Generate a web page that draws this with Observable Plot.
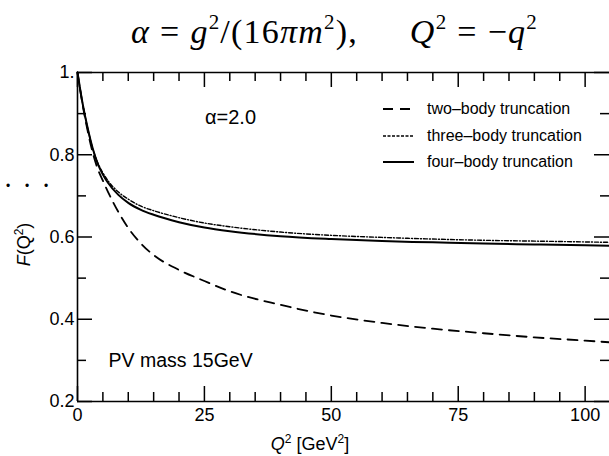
<!DOCTYPE html>
<html>
<head>
<meta charset="utf-8">
<script src="https://cdn.jsdelivr.net/npm/d3@7"></script>
<script src="https://cdn.jsdelivr.net/npm/@observablehq/plot@0.6"></script>
<style>
  html, body { margin: 0; padding: 0; background: #fff; }
  #wrap { position: relative; width: 609px; height: 456px; overflow: hidden; font-family: "Liberation Sans", Arial, sans-serif; }
  #title { position: absolute; left: 0; top: 13px; width: 609px; box-sizing: border-box; padding-left: 60px; text-align: center; font-family: "Liberation Serif", "DejaVu Serif", serif; font-size: 34px; letter-spacing: 1.2px; color: #000; white-space: pre; z-index: 2; }
  #title sup { font-size: 21px; vertical-align: 0; position: relative; top: -14px; }
  #title .eq { display: inline-block; margin: 0 10px; }
  #title .quad { display: inline-block; width: 52px; }
  #chart { position: absolute; left: 0; top: 62px; z-index: 1; }
  #dots { position: absolute; left: 6px; top: 179px; font-size: 12px; letter-spacing: 14.8px; color: #000; z-index: 3; }
  #legend { position: absolute; left: 383px; top: 96px; font-size: 16px; color: #000; z-index: 3; }
  #legend .row { display: flex; align-items: center; height: 26.5px; }
  #legend svg { margin-right: 13px; }
</style>
</head>
<body>
<div id="wrap">
  <div id="title"><i>α</i><span class="eq">=</span><i>g</i><sup>2</sup>/(16<i>πm</i><sup>2</sup>),<span class="quad"></span><i>Q</i><sup>2</sup><span class="eq">=</span>−<i>q</i><sup>2</sup></div>
  <div id="chart"></div>
  <div id="dots">•••</div>
  <div id="legend"></div>
</div>
<script>
// Q^2 grid (GeV^2)
const q2 = [0, 1, 2, 3, 4, 5, 6, 8, 10, 12.5, 15, 20, 25, 30, 40, 50, 60, 70, 80, 90, 100, 104.8];
// F(Q^2) for each truncation
const twoBody   = [1.0, 0.922, 0.858, 0.805, 0.765, 0.737, 0.710, 0.662, 0.622, 0.584, 0.556, 0.520, 0.493, 0.468, 0.435, 0.409, 0.391, 0.377, 0.366, 0.356, 0.348, 0.344];
const threeBody = [1.0, 0.925, 0.865, 0.815, 0.780, 0.756, 0.737, 0.710, 0.692, 0.675, 0.664, 0.647, 0.634, 0.625, 0.612, 0.604, 0.599, 0.595, 0.592, 0.590, 0.588, 0.587];
const fourBody  = [1.0, 0.925, 0.865, 0.815, 0.778, 0.752, 0.732, 0.703, 0.683, 0.666, 0.654, 0.636, 0.623, 0.614, 0.602, 0.595, 0.590, 0.587, 0.584, 0.582, 0.580, 0.579];
const seriesNames = ["two\u2013body truncation", "three\u2013body truncation", "four\u2013body truncation"];
const seriesDash = ["10,7", "4,2,1,2", null];
const seriesWidth = [1.8, 1.4, 2];
const xMajor = [0, 25, 50, 75, 100];
const xMinor = [5, 10, 15, 20, 30, 35, 40, 45, 55, 60, 65, 70, 80, 85, 90, 95];
const yMajor = [0.2, 0.4, 0.6, 0.8, 1.0];
const yMinor = [0.3, 0.5, 0.7, 0.9];
const yTickLabels = ["0.2", "0.4", "0.6", "0.8", "1."];
const xDomain = [0, 104.8];
const yDomain = [0.2, 1.0];
const annotAlpha = "α=2.0";
const annotMass = "PV mass 15GeV";

const seriesValues = [twoBody, threeBody, fourBody];
const rows = [];
seriesValues.forEach((vals, s) => vals.forEach((f, i) => rows.push({series: s, q: q2[i], f})));

const W = 609, H = 394, mL = 77, mR = 0, mT = 10, mB = 55;
const pw = W - mL - mR, ph = H - mT - mB;
const major = 15, minor = 9;

const marks = [];
// frame lines (left, top, bottom)
marks.push(Plot.ruleX([xDomain[0]], {stroke: "#000", strokeWidth: 1.6}));
marks.push(Plot.ruleY(yDomain, {stroke: "#000", strokeWidth: 1.6}));
// inward ticks
marks.push(Plot.tickY(yMajor, {y: d => d, insetRight: pw - major, stroke: "#000", strokeWidth: 1.5}));
marks.push(Plot.tickY(yMinor, {y: d => d, insetRight: pw - minor, stroke: "#000", strokeWidth: 1.5}));
marks.push(Plot.tickY(yMajor, {y: d => d, insetLeft: pw - major, stroke: "#000", strokeWidth: 1.5}));
marks.push(Plot.tickY(yMinor, {y: d => d, insetLeft: pw - minor, stroke: "#000", strokeWidth: 1.5}));
marks.push(Plot.tickX(xMajor, {x: d => d, insetTop: ph - major, stroke: "#000", strokeWidth: 1.5}));
marks.push(Plot.tickX(xMinor, {x: d => d, insetTop: ph - minor, stroke: "#000", strokeWidth: 1.5}));
marks.push(Plot.tickX(xMajor, {x: d => d, insetBottom: ph - major, stroke: "#000", strokeWidth: 1.5}));
marks.push(Plot.tickX(xMinor, {x: d => d, insetBottom: ph - minor, stroke: "#000", strokeWidth: 1.5}));
// axes labels
marks.push(Plot.axisX(xMajor, {anchor: "bottom", tickSize: 0, tickPadding: 7, fontSize: 18, label: null, tickFormat: d => String(d)}));
marks.push(Plot.axisY(yMajor, {anchor: "left", tickSize: 0, tickPadding: 3, fontSize: 18, label: null, tickFormat: (d, i) => yTickLabels[i]}));
// curves
seriesValues.forEach((vals, s) => {
  marks.push(Plot.line(rows.filter(r => r.series === s), {x: "q", y: "f", curve: "monotone-x", stroke: "#000", strokeWidth: seriesWidth[s], strokeDasharray: seriesDash[s]}));
});
// annotations
marks.push(Plot.text([annotAlpha], {frameAnchor: "top-left", dx: 153, dy: 45, fontSize: 20, textAnchor: "middle", lineAnchor: "middle", text: d => d}));
marks.push(Plot.text([annotMass], {frameAnchor: "bottom-left", dx: 31, dy: -41, fontSize: 19.5, textAnchor: "start", lineAnchor: "middle", text: d => d}));

const chart = Plot.plot({
  width: W, height: H,
  marginLeft: mL, marginRight: mR, marginTop: mT, marginBottom: mB,
  x: {domain: xDomain},
  y: {domain: yDomain},
  style: {fontFamily: "'Liberation Sans', Arial, sans-serif", color: "#000", background: "transparent", overflow: "visible"},
  marks
});
document.getElementById("chart").appendChild(chart);

// axis titles as SVG text
const svg = d3.select(chart);
svg.append("text")
  .attr("transform", `translate(30,${mT + ph / 2 + 8}) rotate(-90)`)
  .attr("text-anchor", "middle").attr("font-size", 18)
  .html('<tspan font-style="italic">F</tspan>(Q<tspan font-size="12" dy="-7">2</tspan><tspan dy="7">)</tspan>');
svg.append("text")
  .attr("x", mL + 233).attr("y", H - 6)
  .attr("text-anchor", "middle").attr("font-size", 18)
  .html('<tspan font-style="italic">Q</tspan><tspan font-size="12" dy="-7">2</tspan><tspan dy="7"> [GeV</tspan><tspan font-size="12" dy="-7">2</tspan><tspan dy="7">]</tspan>');

// legend
const legend = d3.select("#legend");
seriesNames.forEach((name, s) => {
  const row = legend.append("div").attr("class", "row");
  const ls = row.append("svg").attr("width", 31).attr("height", 10);
  ls.append("line").attr("x1", 0).attr("x2", 31).attr("y1", 5).attr("y2", 5)
    .attr("stroke", "#000").attr("stroke-width", seriesWidth[s])
    .attr("stroke-dasharray", s === 1 ? "3,1.5" : seriesDash[s]);
  row.append("span").text(name);
});
</script>
</body>
</html>
